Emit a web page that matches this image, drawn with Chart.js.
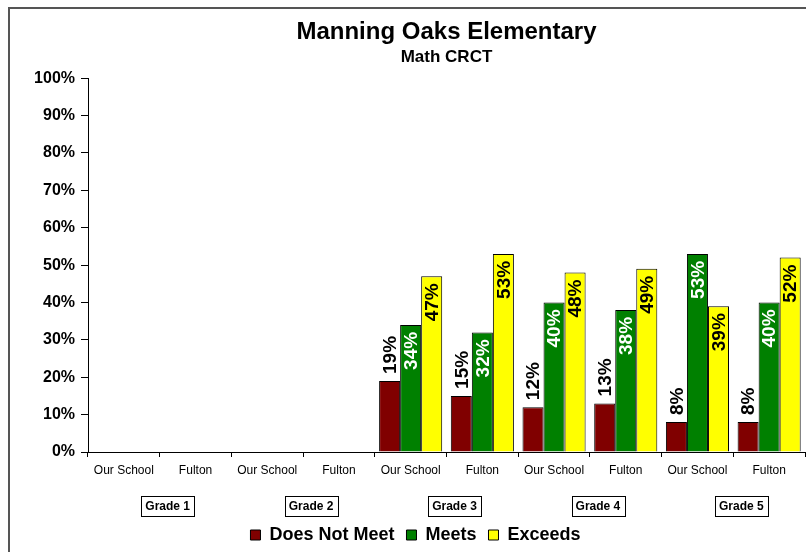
<!DOCTYPE html>
<html>
<head>
<meta charset="utf-8">
<script src="https://cdn.jsdelivr.net/npm/chart.js@4/dist/chart.umd.min.js"></script>
<style>
  html, body { margin: 0; padding: 0; background: #fff; }
  #wrap { position: relative; width: 806px; height: 552px; }
  #frame { position: absolute; left: 8px; top: 7px; right: -4px; bottom: -4px;
           border-left: 2px solid #555; border-top: 2px solid #555; pointer-events: none; }
</style>
</head>
<body>
<div id="wrap">
  <canvas id="myChart" width="806" height="552"></canvas>
  <div id="frame"></div>
</div>
<script>
// categories and values
const schools = ['Our School', 'Fulton', 'Our School', 'Fulton', 'Our School', 'Fulton', 'Our School', 'Fulton', 'Our School', 'Fulton'];
const grades = ['Grade 1', 'Grade 2', 'Grade 3', 'Grade 4', 'Grade 5'];
const doesNotMeet = [null, null, null, null, 19, 15, 12, 13, 8, 8];
const meets = [null, null, null, null, 34, 32, 40, 38, 53, 40];
const exceeds = [null, null, null, null, 47, 53, 48, 49, 39, 52];
const yTicks = [0, 10, 20, 30, 40, 50, 60, 70, 80, 90, 100];

const fontName = '"Liberation Sans", Arial, sans-serif';
Chart.defaults.font.family = fontName;
Chart.defaults.color = '#000';

// value labels, turned on their side
const barLabels = {
  id: 'barLabels',
  afterDatasetsDraw(chart) {
    const ctx = chart.ctx;
    const colors = ['#000', '#fff', '#000'];
    chart.data.datasets.forEach((ds, i) => {
      const meta = chart.getDatasetMeta(i);
      meta.data.forEach((bar, j) => {
        const v = ds.data[j];
        if (v == null) return;
        ctx.save();
        ctx.translate(bar.x, bar.y);
        ctx.rotate(-Math.PI / 2);
        ctx.font = 'bold 19px ' + fontName;
        ctx.textBaseline = 'middle';
        ctx.fillStyle = colors[i];
        if (i === 0) {
          ctx.textAlign = 'left';
          ctx.fillText(v + '%', 7, 1);
        } else {
          ctx.textAlign = 'right';
          ctx.fillText(v + '%', -7, 1);
        }
        ctx.restore();
      });
    });
  }
};

// boxes round the grade labels
const gradeBoxes = {
  id: 'gradeBoxes',
  afterDraw(chart) {
    const scale = chart.scales.x2;
    const ctx = chart.ctx;
    const size = 12;
    const shift = scale.options.ticks.labelOffset;
    ctx.save();
    ctx.font = 'bold ' + size + 'px ' + fontName;
    ctx.strokeStyle = '#000';
    ctx.lineWidth = 1;
    const cy = scale.top + scale.options.ticks.padding + size * 1.2 / 2;
    grades.forEach((g, i) => {
      const x = scale.getPixelForTick(i) + shift;
      const w = ctx.measureText(g).width;
      ctx.strokeRect(Math.round(x - w / 2 - 4) + 0.5, Math.round(cy - 10) + 0.5, Math.round(w + 8), 20);
    });
    ctx.restore();
  }
};

const data = {
  labels: schools,
  datasets: [{
    label: 'Does Not Meet',
    data: doesNotMeet,
    backgroundColor: '#800000',
    borderColor: '#000',
    borderWidth: 1
  }, {
    label: 'Meets',
    data: meets,
    backgroundColor: '#008000',
    borderColor: '#000',
    borderWidth: 1
  }, {
    label: 'Exceeds',
    data: exceeds,
    backgroundColor: '#ffff00',
    borderColor: '#000',
    borderWidth: 1
  }]
};

const config = {
  type: 'bar',
  data,
  options: {
    responsive: false,
    animation: false,
    layout: { padding: { left: 26, right: 1, top: 0, bottom: -2 } },
    datasets: { bar: { categoryPercentage: 0.88, barPercentage: 1 } },
    plugins: {
      title: {
        display: true,
        text: 'Manning Oaks Elementary',
        fullSize: false,
        font: { size: 24, weight: 'bold' },
        padding: { top: 18, bottom: 0 }
      },
      subtitle: {
        display: true,
        text: 'Math CRCT',
        fullSize: false,
        font: { size: 17, weight: 'bold' },
        padding: { top: 0, bottom: 11 }
      },
      legend: {
        position: 'bottom',
        labels: {
          boxWidth: 10,
          boxHeight: 10,
          padding: 12,
          font: { size: 18, weight: 'bold' }
        }
      },
      tooltip: { enabled: false }
    },
    scales: {
      y: {
        min: 0,
        max: 100,
        afterFit(scale) { scale.width = 62; },
        afterBuildTicks(scale) { scale.ticks = yTicks.map(v => ({ value: v })); },
        ticks: {
          callback: v => v + '%',
          font: { size: 16, weight: 'bold' },
          padding: 6
        },
        grid: { drawOnChartArea: false, tickLength: 7, color: '#000' },
        border: { color: '#000', width: 1 }
      },
      x: {
        afterFit(scale) { scale.height = 26; },
        ticks: { font: { size: 12 }, padding: 6, maxRotation: 0, autoSkip: false },
        grid: { drawOnChartArea: false, tickLength: 5, color: '#000', offset: true },
        border: { color: '#000', width: 1 }
      },
      x2: {
        type: 'category',
        labels: grades,
        position: 'bottom',
        offset: true,
        afterFit(scale) { scale.height = 36; },
        ticks: { font: { size: 12, weight: 'bold' }, padding: 21, labelOffset: 8 },
        grid: { display: false, drawTicks: false },
        border: { display: false }
      }
    }
  },
  plugins: [barLabels, gradeBoxes]
};

const myChart = new Chart(document.getElementById('myChart'), config);
</script>
</body>
</html>
